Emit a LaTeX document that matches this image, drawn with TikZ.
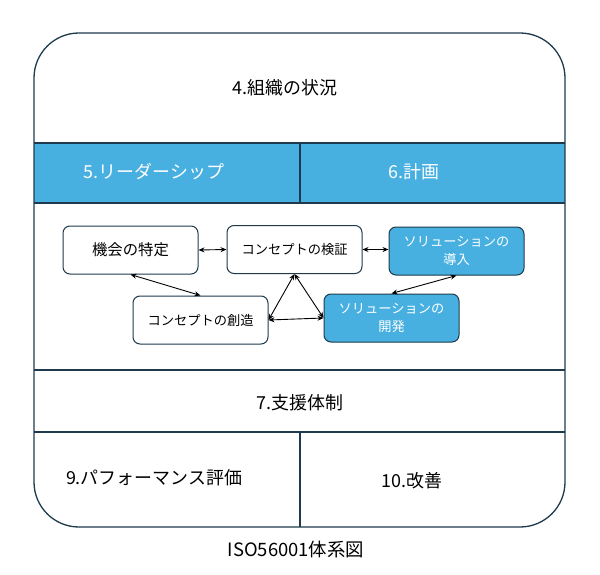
\documentclass[tikz,border=0pt]{standalone}
\usepackage{fontspec}
\setmainfont{Noto Sans CJK JP}
\usetikzlibrary{arrows.meta}
\definecolor{bandblue}{HTML}{48B0E0}
\definecolor{framec}{HTML}{1E3A4C}
\tikzset{
  procbox/.style={draw=framec, line width=1bp, rounded corners=7bp, fill=white, minimum width=135bp, minimum height=48bp, align=center, font=\fontsize{13.3}{18}\selectfont},
  solbox/.style={procbox, fill=bandblue, text=white},
  link/.style={{Stealth[length=6bp,width=5bp]}-{Stealth[length=6bp,width=5bp]}, line width=0.9bp, black},
  title/.style={font=\fontsize{18}{21}\selectfont}
}
\begin{document}
\begin{tikzpicture}[x=1bp,y=-1bp]
\useasboundingbox (0,0) rectangle (600,575);
\fill[bandblue] (34,143) rectangle (565,203);
\draw[framec, line width=1.1bp] (34,143) -- (565,143);
\draw[framec, line width=1.1bp] (34,203) -- (565,203);
\draw[framec, line width=1.1bp] (34,370) -- (565,370);
\draw[framec, line width=1.1bp] (34,432) -- (565,432);
\draw[framec, line width=1.1bp] (300,143) -- (300,203);
\draw[framec, line width=1.1bp] (300,432) -- (300,527);
\draw[framec, line width=1.3bp, rounded corners=45bp] (34,33) rectangle (565,527);

\node[title] (ctx) at (285,88) {4.組織の状況};
\node[title, text=white] (lead) at (154,172) {5.リーダーシップ};
\node[title, text=white] (plan) at (414,172) {6.計画};
\node[title] (supp) at (300,403) {7.支援体制};
\node[title] (perf) at (154,478) {9.パフォーマンス評価};
\node[title] (impr) at (412,481) {10.改善};
\node[font=\fontsize{18.5}{21}\selectfont] (cap) at (296,550) {ISO56001体系図};

\node[procbox, font=\fontsize{15.4}{18}\selectfont] (kikai) at (130.5,250) {機会の特定};
\node[procbox] (kensho) at (294.5,249.5) {コンセプトの検証};
\node[solbox] (donyu) at (456.5,251) {ソリューションの\\導入};
\node[procbox] (sozo) at (200.5,320) {コンセプトの創造};
\node[solbox] (kaihatsu) at (391.5,318) {ソリューションの\\開発};

\draw[link] (kikai.east) -- (kensho.west);
\draw[link] (kensho.east) -- (kensho.east -| donyu.west);
\draw[link] (kikai.south) -- (sozo.north);
\draw[link] (donyu.south) -- (kaihatsu.north);
\draw[link] (kensho.south) -- (sozo.east);
\draw[link] (kensho.south) -- (kaihatsu.west);
\draw[link] (sozo.east) -- (kaihatsu.west);
\end{tikzpicture}
\end{document}
